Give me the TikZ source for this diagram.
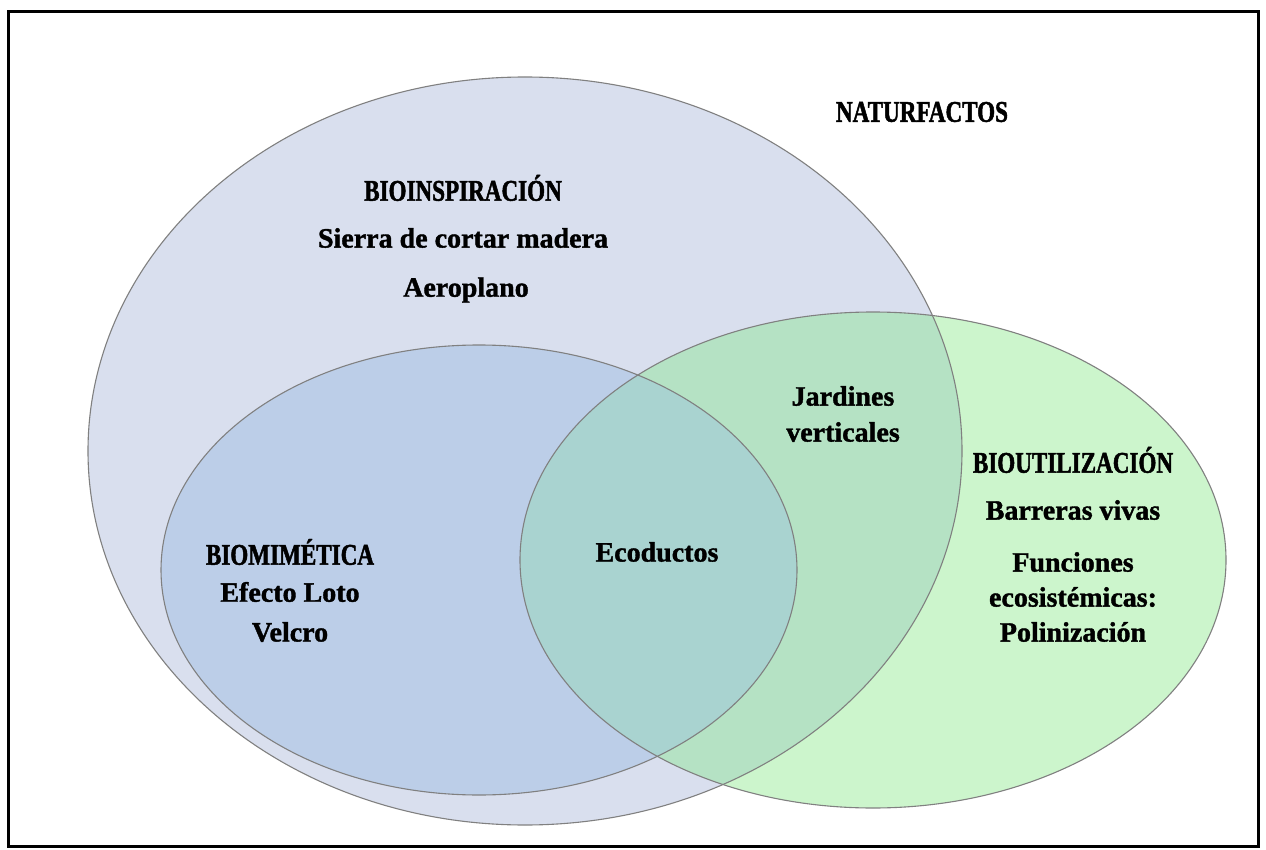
\documentclass[tikz,border=0pt]{standalone}
\usepackage{fontspec}
\setmainfont{Liberation Serif}
\newfontfamily\bodyfont{Liberation Serif}[BoldFeatures={FakeBold=1.3}]
\newfontfamily\capsfont{Liberation Serif}[FakeStretch=0.77, BoldFeatures={FakeBold=1.6}]
\definecolor{bigc}{HTML}{D9DFEE}
\definecolor{mimc}{HTML}{BCCEE8}
\definecolor{greenout}{HTML}{CCF5CC}
\definecolor{greenin}{HTML}{B5E2C4}
\definecolor{mixc}{HTML}{A9D3D0}
\definecolor{edgec}{HTML}{808080}
\tikzset{
  ring/.style={draw=edgec, line width=1.1pt},
  body/.style={font=\bodyfont\bfseries\fontsize{28}{32}\selectfont, align=center, inner sep=0pt},
  head/.style={font=\capsfont\bfseries\fontsize{30}{34}\selectfont, align=center, inner sep=0pt}
}
\begin{document}
\begin{tikzpicture}[x=1pt,y=-1pt]
\useasboundingbox (0,0) rectangle (1266,850);
\fill[white] (0,0) rectangle (1266,850);
\def\bigE{(525,451) ellipse [x radius=437, y radius=374]}
\def\mimE{(479,570) ellipse [x radius=318, y radius=225]}
\def\grnE{(873,560) ellipse [x radius=353, y radius=248]}
% regions
\fill[bigc] \bigE;
\begin{scope}\clip \grnE; \fill[greenout] (0,0) rectangle (1266,850);\end{scope}
\begin{scope}\clip \grnE; \clip \bigE; \fill[greenin] (0,0) rectangle (1266,850);\end{scope}
\fill[mimc] \mimE;
\begin{scope}\clip \grnE; \clip \mimE; \fill[mixc] (0,0) rectangle (1266,850);\end{scope}
% outlines
\draw[ring] \bigE;
\draw[ring] \mimE;
\draw[ring] \grnE;
% frame
\draw[line width=3pt] (8,12) rectangle (1258,846);
% texts
\node[head] (nat) at (922,112) {NATURFACTOS};
\node[head] (bioins) at (463,188) {BIOINSPIRACIÓN};
\node[body] (sierra) at (463,238) {Sierra de cortar madera};
\node[body] (aero) at (466,290) {Aeroplano};
\node[body] (jard) at (843,414) {Jardines\\[4pt]verticales};
\node[head] (bioutil) at (1073,460) {BIOUTILIZACIÓN};
\node[body] (barr) at (1073,510) {Barreras vivas};
\node[body] (func) at (1073,597) {Funciones\\[3pt]ecosistémicas:\\[3pt]Polinización};
\node[head] (biomim) at (290,552) {BIOMIMÉTICA};
\node[body] (efecto) at (290,592) {Efecto Loto};
\node[body] (velcro) at (290,632) {Velcro};
\node[body] (eco) at (657,552) {Ecoductos};
\end{tikzpicture}
\end{document}
